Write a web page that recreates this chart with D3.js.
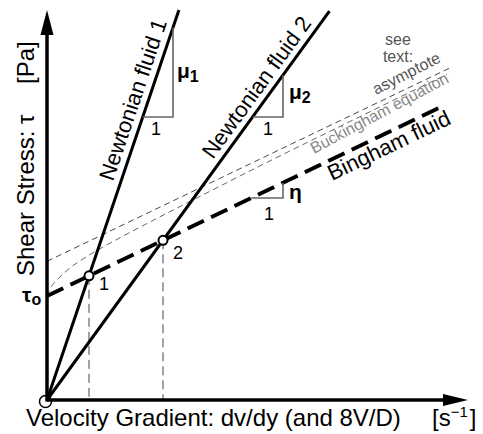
<!DOCTYPE html>
<html>
<head>
<meta charset="utf-8">
<script src="https://cdn.jsdelivr.net/npm/d3@7"></script>
<style>
  html, body { margin: 0; padding: 0; background: #fff; }
  svg { display: block; font-family: Arial, "Liberation Sans", Helvetica, sans-serif; }
</style>
</head>
<body>
<svg id="chart" width="483" height="434"></svg>
<script>
// Rheological flow curves: shear stress against velocity gradient.

// Bingham plastic parameters (yield stress and plastic viscosity)
const yieldStress = 2.6;
const plasticViscosity = 0.48;
const binghamEndRate = 9.95;

// Shear rates where each Newtonian fluid meets the Bingham line
const crossLabels = ["1", "2"];
const crossRates = [1.05, 2.9];
const newtonianNames = ["Newtonian fluid 1", "Newtonian fluid 2"];
const newtonianTopStress = [9.75, 9.72];

// Buckingham equation curve (shear rate, wall shear stress)
const buckRate   = [0, 0.1, 0.25, 0.5, 1.0, 1.5, 2.0, 3.0, 4.0, 5.0, 6.0, 7.0, 8.0, 9.0, 10.0];
const buckStress = [2.6, 2.82, 3.0, 3.24, 3.59, 3.88, 4.15, 4.67, 5.18, 5.69, 6.19, 6.68, 7.17, 7.66, 8.14];
const asymptoteEndRate = 10.05;

// Axis extents
const xMax = 10.525, yMax = 9.75;

const svg = d3.select("#chart");
const x = d3.scaleLinear().domain([0, xMax]).range([47, 468]);
const y = d3.scaleLinear().domain([0, yMax]).range([400, 10]);

const bingham = r => yieldStress + plasticViscosity * r;
const crossStress = crossRates.map(bingham);
const viscosities = crossRates.map((r, i) => crossStress[i] / r);
const asymptote = r => (4 / 3) * yieldStress + plasticViscosity * r;
const line = d3.line().x(d => x(d[0])).y(d => y(d[1]));

// origin marker sits beneath the lines
svg.append("circle").attr("cx", x(0) - 1.5).attr("cy", y(0) + 1.5).attr("r", 6)
  .attr("fill", "#fff").attr("stroke", "#000").attr("stroke-width", 1.5);

// drop lines from the intersection points
crossRates.forEach((r, i) => {
  svg.append("path").attr("d", line([[r, crossStress[i]], [r, 0]]))
    .attr("stroke", "#444").attr("stroke-width", 1).attr("stroke-dasharray", "9,5").attr("fill", "none");
});

// asymptote of the Buckingham curve
svg.append("path").attr("d", line([[0, asymptote(0)], [asymptoteEndRate, asymptote(asymptoteEndRate)]]))
  .attr("stroke", "#333").attr("stroke-width", 0.9).attr("stroke-dasharray", "6,4").attr("fill", "none");

// Buckingham curve
svg.append("path").attr("d", d3.line().curve(d3.curveMonotoneX).x(d => x(d[0])).y(d => y(d[1]))(buckRate.map((r, i) => [r, buckStress[i]])))
  .attr("stroke", "#555").attr("stroke-width", 0.9).attr("stroke-dasharray", "6,4").attr("fill", "none");

// Newtonian fluids
viscosities.forEach((mu, i) => {
  const top = newtonianTopStress[i];
  svg.append("path").attr("d", line([[0, 0], [top / mu, top]]))
    .attr("stroke", "#000").attr("stroke-width", 3).attr("fill", "none");
});

// Bingham fluid
svg.append("path").attr("d", line([[0, yieldStress], [binghamEndRate, bingham(binghamEndRate)]]))
  .attr("stroke", "#000").attr("stroke-width", 4).attr("stroke-dasharray", "18,8").attr("fill", "none");

// slope triangles
const tri = svg.append("g").attr("stroke", "#666").attr("stroke-width", 1.6).attr("fill", "none");
function slopeMarker(f, inv, runEnd, riseBase) {
  const x0 = inv(riseBase);
  tri.append("path").attr("d", line([[x0, riseBase], [runEnd, riseBase], [runEnd, f(runEnd)]]));
}
slopeMarker(r => viscosities[0] * r, s => s / viscosities[0], 3.15, 7.075);
slopeMarker(r => viscosities[1] * r, s => s / viscosities[1], 5.9, 7.075);
slopeMarker(bingham, s => (s - yieldStress) / plasticViscosity, 5.9, 5.05);

// intersection markers
crossRates.forEach((r, i) => {
  svg.append("circle").attr("cx", x(r)).attr("cy", y(crossStress[i])).attr("r", 4.5)
    .attr("fill", "#fff").attr("stroke", "#000").attr("stroke-width", 2);
});

// axes with arrowheads
const ax = svg.append("g");
ax.append("path").attr("d", `M${x(0)},${y(0)}H${x(xMax) - 12}`).attr("stroke", "#000").attr("stroke-width", 3.5);
ax.append("path").attr("d", `M${x(0)},${y(0) + 1.5}V${y(yMax) + 12}`).attr("stroke", "#000").attr("stroke-width", 3.5);
ax.append("path").attr("d", `M${x(xMax)},${y(0)}L${x(xMax) - 25},${y(0) - 6}L${x(xMax) - 25},${y(0) + 6}Z`).attr("fill", "#000");
ax.append("path").attr("d", `M${x(0)},${y(yMax)}L${x(0) - 6.5},${y(yMax) + 25}L${x(0) + 6.5},${y(yMax) + 25}Z`).attr("fill", "#000");

// axis titles
svg.append("text").attr("x", 26).attr("y", 426).attr("font-size", 24).text("Velocity Gradient: dv/dy (and 8V/D)");
const sUnit = svg.append("text").attr("x", 432).attr("y", 426).attr("font-size", 24);
sUnit.append("tspan").text("[s");
sUnit.append("tspan").attr("font-size", 15).attr("dy", -9).text("\u22121");
sUnit.append("tspan").attr("dy", 9).attr("dx", 2).text("]");

svg.append("text").attr("transform", "translate(34,276) rotate(-90)").attr("font-size", 24).text("Shear Stress: \u03c4");
svg.append("text").attr("transform", "translate(34,84) rotate(-90)").attr("font-size", 24).text("[Pa]");

// τo
const t0 = svg.append("text").attr("x", 22).attr("y", 302).attr("font-size", 21).attr("font-weight", "bold");
t0.append("tspan").text("\u03c4");
t0.append("tspan").attr("font-size", 16).attr("dy", 3).text("o");

// labels along the lines
function alongLabel(txt, px, py, angle, size, color) {
  svg.append("text").attr("transform", `translate(${px},${py}) rotate(${angle})`)
    .attr("font-size", size).attr("fill", color).text(txt);
}
const ang = m => -Math.atan(m) * 180 / Math.PI;
alongLabel(newtonianNames[0], 113, 182, ang(viscosities[0]), 22, "#000");
alongLabel(newtonianNames[1], 213, 160, ang(viscosities[1]), 22, "#000");
alongLabel("Bingham fluid", 332, 181, -25.6, 22, "#000");
alongLabel("Buckingham equation", 314, 154, -28, 16, "#888");
alongLabel("asymptote", 376, 95, -27, 16, "#555");

svg.append("text").attr("x", 398).attr("y", 45).attr("text-anchor", "middle").attr("font-size", 16).attr("fill", "#555").text("see");
svg.append("text").attr("x", 398).attr("y", 62).attr("text-anchor", "middle").attr("font-size", 16).attr("fill", "#555").text("text:");

// slope symbols
function symbol(glyph, sub, px, py) {
  const t = svg.append("text").attr("x", px).attr("y", py).attr("font-size", 21).attr("font-weight", "bold");
  t.append("tspan").text(glyph);
  if (sub) t.append("tspan").attr("font-size", 16).attr("dy", 4).text(sub);
}
symbol("\u03bc", "1", 177, 78);
symbol("\u03bc", "2", 289, 99);
symbol("\u03b7", null, 289, 199);

// unit runs under the triangles
[[156, 135], [268, 135], [269, 220]].forEach(p => {
  svg.append("text").attr("x", p[0]).attr("y", p[1]).attr("text-anchor", "middle").attr("font-size", 18).text("1");
});

// intersection labels
crossLabels.forEach((lab, i) => {
  svg.append("text").attr("x", x(crossRates[i]) + 10).attr("y", y(crossStress[i]) + 14 + (i === 1 ? 5 : 0))
    .attr("font-size", 18).text(lab);
});
</script>
</body>
</html>
